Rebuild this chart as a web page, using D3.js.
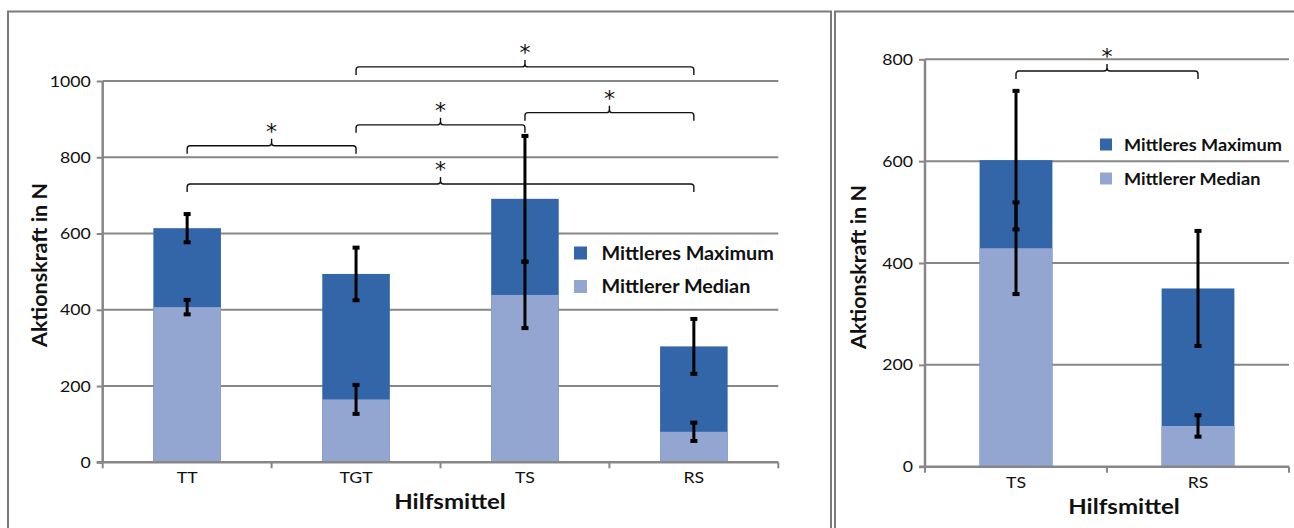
<!DOCTYPE html>
<html>
<head>
<meta charset="utf-8">
<script src="https://cdn.jsdelivr.net/npm/d3@7"></script>
<style>
  body { margin: 0; background: #fff; }
  svg { display: block; }
  text { font-family: Lato, "Open Sans", sans-serif; fill: #111; }
</style>
</head>
<body>
<svg id="chart" width="1294" height="528"></svg>
<script>
// ---- data: left panel (all aids) ----
const leftCategories = ["TT", "TGT", "TS", "RS"];
const leftMaximum    = [614, 494, 691, 304];
const leftMaximumErr = [37, 69, 165, 72];
const leftMedian     = [407, 165, 439, 80];
const leftMedianErr  = [19, 38, 87, 24];
const leftTicks      = [0, 200, 400, 600, 800, 1000];
// significance brackets: [from, to, level in N]
const leftSignificance = [["TT", "TGT", 830], ["TGT", "TS", 885], ["TS", "RS", 917], ["TGT", "RS", 1037], ["TT", "RS", 730]];

// ---- data: right panel (TS vs RS) ----
const rightCategories = ["TS", "RS"];
const rightMaximum    = [602, 350];
const rightMaximumErr = [136, 113];
const rightMedian     = [429, 80];
const rightMedianErr  = [90, 21];
const rightTicks      = [0, 200, 400, 600, 800];
const rightSignificance = [["TS", "RS", 777]];

const seriesNames = ["Mittleres Maximum", "Mittlerer Median"];
const yTitle = "Aktionskraft in N";
const xTitle = "Hilfsmittel";

const COLOR_MAX = "#3366a9";
const COLOR_MED = "#93a6d1";
const GRID = "#878787";
const SX = 1.22; // horizontal widening of the typeface

const svg = d3.select("#chart");

// panel frames
svg.append("rect").attr("x", 8).attr("y", 11.5).attr("width", 823).attr("height", 540)
  .attr("fill", "none").attr("stroke", "#7a7a7a").attr("stroke-width", 2);
svg.append("rect").attr("x", 835).attr("y", 11.5).attr("width", 480).attr("height", 540)
  .attr("fill", "none").attr("stroke", "#7a7a7a").attr("stroke-width", 2);

function txt(g, str, x, y, o = {}) {
  const t = g.append("text")
    .attr("transform", `translate(${x},${y})${o.rotate ? ` rotate(${o.rotate})` : ""} scale(${o.sx ?? SX},1)`)
    .attr("text-anchor", o.anchor || "middle")
    .attr("font-size", o.size || 14)
    .attr("font-weight", o.weight || 400)
    .text(str);
  if (o.dy) t.attr("dy", o.dy);
  if (o.family) t.style("font-family", o.family);
  return t;
}

function drawPanel(cfg) {
  const g = svg.append("g");
  const x = d3.scaleBand().domain(cfg.categories).range(cfg.xRange)
    .paddingInner(0.6).paddingOuter(0.3);
  const y = d3.scaleLinear().domain([0, d3.max(cfg.ticks)]).range(cfg.yRange);
  const [x0, x1] = cfg.xRange;

  // horizontal gridlines
  g.append("g").selectAll("line").data(cfg.ticks.filter(d => d > 0)).join("line")
    .attr("x1", x0).attr("x2", x1).attr("y1", d => y(d)).attr("y2", d => y(d))
    .attr("stroke", GRID).attr("stroke-width", 2);

  // bars: maximum behind, median in front
  const rows = cfg.categories.map((c, i) => ({
    c, max: cfg.maximum[i], maxErr: cfg.maximumErr[i], med: cfg.median[i], medErr: cfg.medianErr[i]
  }));
  g.append("g").selectAll("rect").data(rows).join("rect")
    .attr("x", d => x(d.c)).attr("width", x.bandwidth())
    .attr("y", d => y(d.max)).attr("height", d => y(0) - y(d.max))
    .attr("fill", COLOR_MAX);
  g.append("g").selectAll("rect").data(rows).join("rect")
    .attr("x", d => x(d.c)).attr("width", x.bandwidth())
    .attr("y", d => y(d.med)).attr("height", d => y(0) - y(d.med))
    .attr("fill", COLOR_MED);

  // y axis
  const yAxis = g.append("g").attr("transform", `translate(${x0},0)`)
    .call(d3.axisLeft(y).tickValues(cfg.ticks).tickSize(6).tickPadding(6).tickFormat(d3.format("d")));
  yAxis.select(".domain").attr("stroke", GRID).attr("stroke-width", 2.5).attr("d", `M0,${y(0)}V${y(d3.max(cfg.ticks))}`);
  yAxis.selectAll(".tick line").attr("stroke", GRID).attr("stroke-width", 2);
  yAxis.selectAll(".tick text").remove();
  yAxis.selectAll(".tick").each(function (d) {
    txt(d3.select(this), d, -6 - 6, 0, { anchor: "end", size: 14.5, dy: "0.35em" });
  });

  // x axis with category boundaries as ticks
  g.append("line").attr("x1", x0 - 6).attr("x2", x1).attr("y1", y(0)).attr("y2", y(0))
    .attr("stroke", GRID).attr("stroke-width", 2.5);
  const bounds = d3.range(cfg.categories.length + 1).map(i => x0 + i * x.step());
  g.append("g").selectAll("line").data(bounds).join("line")
    .attr("x1", d => d).attr("x2", d => d).attr("y1", y(0)).attr("y2", y(0) + 6)
    .attr("stroke", GRID).attr("stroke-width", 2);
  cfg.categories.forEach(c => txt(g, c, x(c) + x.bandwidth() / 2, y(0) + 21, { size: 14.5 }));

  // error bars
  const err = rows.flatMap(d => [
    { c: d.c, lo: d.max - d.maxErr, hi: d.max + d.maxErr },
    { c: d.c, lo: d.med - d.medErr, hi: d.med + d.medErr }
  ]);
  const eg = g.append("g").attr("stroke", "#000");
  err.forEach(e => {
    const cx = x(e.c) + x.bandwidth() / 2;
    eg.append("line").attr("x1", cx).attr("x2", cx).attr("y1", y(e.lo)).attr("y2", y(e.hi)).attr("stroke-width", 3);
    [e.lo, e.hi].forEach(v => eg.append("line")
      .attr("x1", cx - 3.5).attr("x2", cx + 3.5).attr("y1", y(v)).attr("y2", y(v)).attr("stroke-width", 4));
  });

  // significance brackets
  const bg = g.append("g");
  cfg.significance.forEach(([a, b, lvl]) => {
    const xa = x(a) + x.bandwidth() / 2, xb = x(b) + x.bandwidth() / 2, yy = y(lvl);
    const xm = (xa + xb) / 2, r = 3, drop = 8, rise = 7;
    const p = d3.path();
    p.moveTo(xa, yy + drop);
    p.lineTo(xa, yy + r);
    p.quadraticCurveTo(xa, yy, xa + r, yy);
    p.lineTo(xm - r, yy);
    p.quadraticCurveTo(xm, yy, xm, yy - r);
    p.lineTo(xm, yy - rise);
    p.moveTo(xm, yy - r);
    p.quadraticCurveTo(xm, yy, xm + r, yy);
    p.lineTo(xb - r, yy);
    p.quadraticCurveTo(xb, yy, xb, yy + r);
    p.lineTo(xb, yy + drop);
    bg.append("path").attr("d", p.toString()).attr("fill", "none").attr("stroke", "#111").attr("stroke-width", 1.4);
    txt(bg, "*", xm, yy - 7, { size: 21, sx: 1.05, family: "'DejaVu Sans', sans-serif" });
  });

  // legend
  const lg = g.append("g");
  [COLOR_MAX, COLOR_MED].forEach((col, i) => {
    const ly = cfg.legend.y + i * cfg.legend.gap;
    lg.append("rect").attr("x", cfg.legend.x).attr("y", ly - cfg.legend.box)
      .attr("width", cfg.legend.box).attr("height", cfg.legend.box).attr("fill", col);
    txt(lg, seriesNames[i], cfg.legend.x + cfg.legend.textOffset, ly, { anchor: "start", size: cfg.legend.size, weight: 700, sx: cfg.legend.sx });
  });

  // axis titles
  txt(g, xTitle, cfg.xTitle[0], cfg.xTitle[1], { size: 21.5, weight: 700, sx: 1.12 });
  txt(g, yTitle, cfg.yTitle[0], cfg.yTitle[1], { size: 21.5, weight: 700, rotate: -90, sx: 1 });
}

drawPanel({
  categories: leftCategories, maximum: leftMaximum, maximumErr: leftMaximumErr,
  median: leftMedian, medianErr: leftMedianErr, ticks: leftTicks, significance: leftSignificance,
  xRange: [102.7, 778.3], yRange: [462.3, 81],
  legend: { x: 574, y: 259.5, gap: 33.5, box: 13, textOffset: 27.5, size: 18, sx: 1.1 },
  xTitle: [450, 509], yTitle: [46.5, 265]
});

drawPanel({
  categories: rightCategories, maximum: rightMaximum, maximumErr: rightMaximumErr,
  median: rightMedian, medianErr: rightMedianErr, ticks: rightTicks, significance: rightSignificance,
  xRange: [925, 1289], yRange: [466.7, 59.3],
  legend: { x: 1100, y: 150.5, gap: 34, box: 12, textOffset: 24, size: 16.5, sx: 1.1 },
  xTitle: [1124, 514], yTitle: [866, 267]
});
</script>
</body>
</html>
